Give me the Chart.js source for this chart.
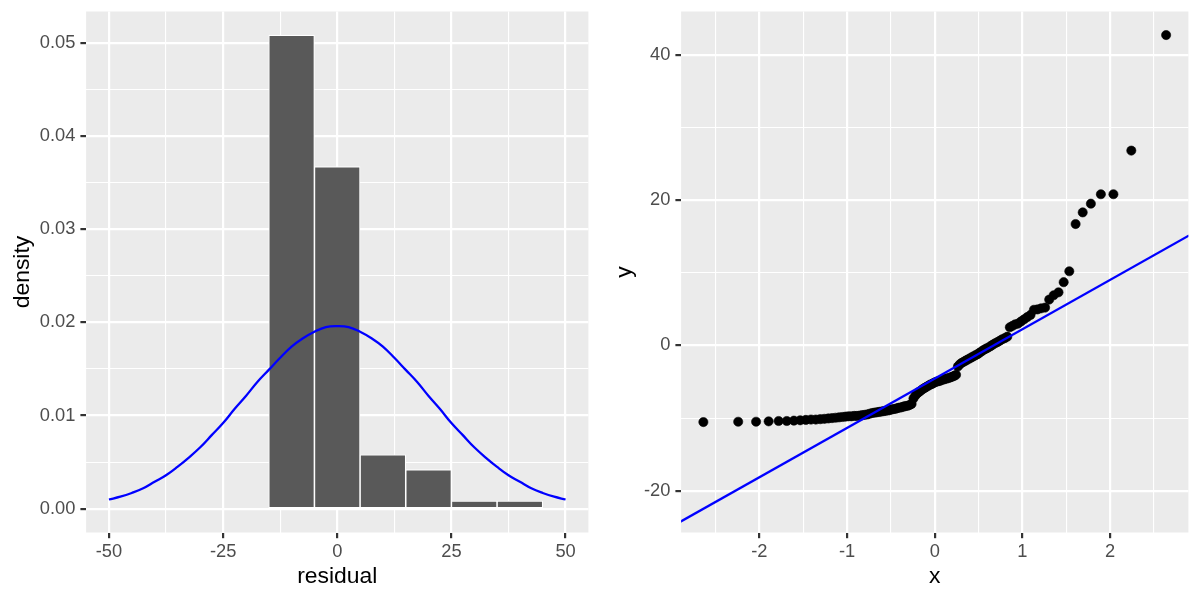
<!DOCTYPE html>
<html>
<head>
<meta charset="utf-8">
<script src="https://cdn.jsdelivr.net/npm/chart.js@4.4.1/dist/chart.umd.min.js"></script>
<style>
  html, body { margin: 0; padding: 0; background: #FFFFFF; }
  #wrap { position: relative; width: 1200px; height: 600px; }
  canvas { position: absolute; top: 0; }
</style>
</head>
<body>
<div id="wrap">
  <canvas id="left" width="600" height="600" style="left:0"></canvas>
  <canvas id="right" width="600" height="600" style="left:600px"></canvas>
</div>
<script>
// ---------- Left panel: histogram of residuals ----------
const binCenters = [-10, 0, 10, 20, 30, 40];
const binDensity = [0.0508, 0.0367, 0.0058, 0.0042, 0.00083, 0.00083];

const curveX = [-50, -47.5, -45, -42.5, -40, -37.5, -35, -32.5, -30, -27.5, -25, -22.5, -20, -17.5, -15, -12.5, -10, -7.5, -5, -2.5,
  0, 2.5, 5, 7.5, 10, 12.5, 15, 17.5, 20, 22.5, 25, 27.5, 30, 32.5, 35, 37.5, 40, 42.5, 45, 47.5, 50];
const curveY = [0.0010, 0.0013, 0.0017, 0.0022, 0.0029, 0.0036, 0.0045, 0.0055, 0.0066, 0.0079, 0.0092, 0.0107, 0.0121, 0.0136, 0.0149, 0.0162, 0.0174, 0.0183, 0.0190, 0.0195,
  0.0196, 0.0195, 0.0190, 0.0183, 0.0174, 0.0162, 0.0149, 0.0136, 0.0121, 0.0107, 0.0092, 0.0079, 0.0066, 0.0055, 0.0045, 0.0036, 0.0029, 0.0022, 0.0017, 0.0013, 0.0010];

const histXMajor = [-50, -25, 0, 25, 50];
const histXMinor = [-37.5, -12.5, 12.5, 37.5];
const histYMajor = [0, 0.01, 0.02, 0.03, 0.04, 0.05];
const histYMinor = [0.005, 0.015, 0.025, 0.035, 0.045];

// ---------- Right panel: normal QQ plot ----------
const qqTheoretical = [
  -2.638, -2.241, -2.037, -1.894, -1.780, -1.687, -1.606, -1.534, -1.470, -1.411,
  -1.356, -1.305, -1.258, -1.213, -1.171, -1.131, -1.092, -1.055, -1.019, -0.984,
  -0.951, -0.918, -0.887, -0.856, -0.827, -0.798, -0.769, -0.742, -0.714, -0.688,
  -0.661, -0.636, -0.610, -0.585, -0.561, -0.536, -0.512, -0.489, -0.465, -0.442,
  -0.419, -0.397, -0.374, -0.352, -0.330, -0.308, -0.286, -0.264, -0.243, -0.221,
  -0.200, -0.179, -0.157, -0.136, -0.115, -0.094, -0.073, -0.052, -0.031, -0.010,
  0.010, 0.031, 0.052, 0.073, 0.094, 0.115, 0.136, 0.157, 0.179, 0.200,
  0.221, 0.243, 0.264, 0.286, 0.308, 0.330, 0.352, 0.374, 0.397, 0.419,
  0.442, 0.465, 0.489, 0.512, 0.536, 0.561, 0.585, 0.610, 0.636, 0.661,
  0.688, 0.714, 0.742, 0.769, 0.798, 0.827, 0.856, 0.887, 0.918, 0.951,
  0.984, 1.019, 1.055, 1.092, 1.131, 1.171, 1.213, 1.258, 1.305, 1.356,
  1.411, 1.470, 1.534, 1.606, 1.687, 1.780, 1.894, 2.037, 2.241, 2.638
];
const qqSample = [
  -10.55, -10.5, -10.5, -10.45, -10.4, -10.4, -10.35, -10.3, -10.25, -10.2,
  -10.2, -10.15, -10.1, -10.05, -10.0, -9.95, -9.9, -9.85, -9.8, -9.75,
  -9.75, -9.7, -9.7, -9.65, -9.6, -9.55, -9.5, -9.4, -9.3, -9.25,
  -9.2, -9.15, -9.1, -9.05, -9.0, -8.95, -8.9, -8.8, -8.75, -8.7,
  -8.6, -8.55, -8.5, -8.4, -8.35, -8.3, -8.2, -8.05, -7.3, -6.9,
  -6.6, -6.4, -6.2, -6.0, -5.85, -5.7, -5.55, -5.4, -5.3, -5.15,
  -5.05, -4.95, -4.9, -4.8, -4.7, -4.65, -4.55, -4.5, -4.4, -4.3,
  -4.2, -4.05, -2.9, -2.6, -2.4, -2.25, -2.1, -1.95, -1.8, -1.65,
  -1.5, -1.35, -1.2, -1.0, -0.8, -0.6, -0.45, -0.3, -0.1, 0.1,
  0.3, 0.45, 0.65, 0.85, 1.0, 1.2, 2.5, 2.7, 2.9, 3.0,
  3.3, 3.6, 3.9, 4.2, 4.9, 4.95, 5.1, 5.2, 6.3, 6.9,
  7.3, 8.7, 10.2, 16.7, 18.3, 19.5, 20.8, 20.8, 26.8, 42.7
];
const qqLineX = [-2.9, 2.9];
const qqLineY = [-24.25, 15.13];

const qqXMajor = [-2, -1, 0, 1, 2];
const qqXMinor = [-2.5, -1.5, -0.5, 0.5, 1.5, 2.5];
const qqYMajor = [-20, 0, 20, 40];
const qqYMinor = [-10, 10, 30];

// ---------- shared styling helpers ----------
const TICK_FONT = { family: 'Liberation Sans, Arial, sans-serif', size: 18.3 };
const TITLE_FONT = { family: 'Liberation Sans, Arial, sans-serif', size: 22.9 };
const isIn = (arr, v) => arr.some(m => Math.abs(m - v) < 1e-9);

function makeScale(opts) {
  const { min, max, major, minor, fmt, title, fitKey, fitVal, pos, titlePad, tickPad } = opts;
  return {
    type: 'linear', position: pos, min, max, offset: false,
    afterBuildTicks: s => { s.ticks = major.concat(minor).sort((a, b) => a - b).map(v => ({ value: v })); },
    afterFit: s => {
      s[fitKey] = fitVal;
      s.paddingTop = 0; s.paddingBottom = 0; s.paddingLeft = 0; s.paddingRight = 0;
    },
    ticks: {
      autoSkip: false, maxRotation: 0, minRotation: 0, padding: tickPad,
      color: '#4D4D4D', font: TICK_FONT,
      callback: v => isIn(major, v) ? fmt(v) : ''
    },
    grid: {
      offset: false, drawOnChartArea: true, drawTicks: true,
      color: '#FFFFFF',
      lineWidth: c => (c.tick && isIn(major, c.tick.value)) ? 2.2 : 1.1,
      tickColor: c => (c.tick && isIn(major, c.tick.value)) ? '#333333' : 'rgba(0,0,0,0)',
      tickLength: 5.7, tickWidth: 2.2
    },
    border: { display: false },
    title: { display: true, text: title, color: '#000000', font: TITLE_FONT, padding: titlePad }
  };
}

const panelBg = {
  id: 'panelBg',
  beforeDraw(chart) {
    const { ctx, chartArea: a } = chart;
    ctx.save();
    ctx.fillStyle = '#EBEBEB';
    ctx.fillRect(a.left, a.top, a.right - a.left, a.bottom - a.top);
    ctx.restore();
  }
};

// ---------- Left chart ----------
new Chart(document.getElementById('left'), {
  type: 'bar',
  data: {
    datasets: [
      {
        type: 'line', order: 0,
        data: curveX.map((x, i) => ({ x, y: curveY[i] })),
        borderColor: '#0000FF', borderWidth: 2.3, pointRadius: 0,
        tension: 0.4, fill: false
      },
      {
        type: 'bar', order: 1,
        data: binCenters.map((x, i) => ({ x, y: binDensity[i] })),
        backgroundColor: '#595959', borderColor: '#FFFFFF', borderWidth: 1.1,
        barPercentage: 1, categoryPercentage: 1, borderSkipped: false
      }
    ]
  },
  options: {
    responsive: false, animation: false, devicePixelRatio: 1,
    layout: { padding: { left: 0, top: 11.5, right: 11.6, bottom: 0 } },
    plugins: { legend: { display: false }, tooltip: { enabled: false } },
    scales: {
      x: makeScale({ min: -55, max: 55, major: histXMajor, minor: histXMinor, fmt: v => String(v),
        title: 'residual', fitKey: 'height', fitVal: 67.5, pos: 'bottom', titlePad: { top: 4, bottom: 10 }, tickPad: 3 }),
      y: makeScale({ min: -0.00254, max: 0.05334, major: histYMajor, minor: histYMinor, fmt: v => v.toFixed(2),
        title: 'density', fitKey: 'width', fitVal: 86.1, pos: 'left', titlePad: { top: 9, bottom: 0 }, tickPad: 5 })
    }
  },
  plugins: [panelBg]
});

// ---------- Right chart ----------
new Chart(document.getElementById('right'), {
  type: 'scatter',
  data: {
    datasets: [
      {
        type: 'line', order: 0,
        data: qqLineX.map((x, i) => ({ x, y: qqLineY[i] })),
        borderColor: '#0000FF', borderWidth: 2.3, pointRadius: 0, fill: false
      },
      {
        type: 'scatter', order: 1,
        data: qqTheoretical.map((x, i) => ({ x, y: qqSample[i] })),
        backgroundColor: '#000000', borderColor: '#000000', borderWidth: 0.6, pointRadius: 4.6
      }
    ]
  },
  options: {
    responsive: false, animation: false, devicePixelRatio: 1,
    layout: { padding: { left: 0, top: 11.5, right: 11.6, bottom: 0 } },
    plugins: { legend: { display: false }, tooltip: { enabled: false } },
    scales: {
      x: makeScale({ min: -2.892, max: 2.892, major: qqXMajor, minor: qqXMinor, fmt: v => String(v),
        title: 'x', fitKey: 'height', fitVal: 67.5, pos: 'bottom', titlePad: { top: 4, bottom: 10 }, tickPad: 3 }),
      y: makeScale({ min: -25.74, max: 45.94, major: qqYMajor, minor: qqYMinor, fmt: v => String(v),
        title: 'y', fitKey: 'width', fitVal: 81.1, pos: 'left', titlePad: { top: 11, bottom: 0 }, tickPad: 5 })
    }
  },
  plugins: [panelBg]
});
</script>
</body>
</html>
